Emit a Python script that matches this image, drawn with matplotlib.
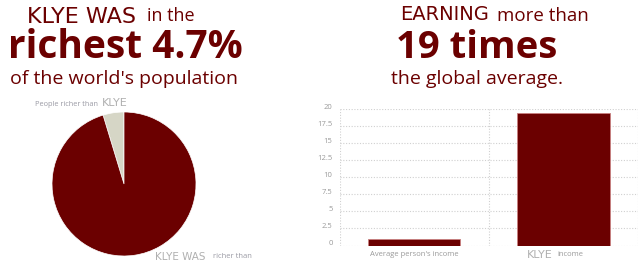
import numpy as np
import matplotlib.pyplot as plt
from matplotlib.transforms import ScaledTranslation

# data
pie_labels = ["People richer than", "richer than"]
pie_share = [4.7, 95.3]
bar_labels = ["Average person's income", "income"]
bar_values = [1.0, 19.4]
yticks = [0, 2.5, 5, 7.5, 10, 12.5, 15, 17.5, 20]

RED = "#6b0000"
BEIGE = "#d6d6c6"
GREY = "#9a9aa4"
HAND = "DejaVu Sans"
W, H = 640, 266

plt.rcParams['font.family'] = ['Open Sans', 'DejaVu Sans']
fig = plt.figure(figsize=(6.4, 2.66), dpi=100)


def txt(x, y, s, **kw):
    # place text using pixel coords from top-left
    fig.text(x / W, 1 - y / H, s, **kw)


# headline, left
txt(27, 17, "KLYE WAS", fontsize=16, color=RED, family=HAND, va="center")
txt(147, 16, "in the", fontsize=13, color=RED, va="center")
txt(125, 48, "richest 4.7%", fontsize=28, color=RED, weight="bold", ha="center", va="center")
txt(124, 79, "of the world's population", fontsize=14, color=RED, ha="center", va="center")

# headline, right
txt(400, 15, "EARNING", fontsize=14, color=RED, family=HAND, va="center")
txt(497, 16, "more than", fontsize=13.5, color=RED, va="center")
txt(477, 48, "19 times", fontsize=27.5, color=RED, weight="bold", ha="center", va="center")
txt(477, 79, "the global average.", fontsize=14, color=RED, ha="center", va="center")

# pie
ax1 = fig.add_axes([(124 - 72) / W, (H - 256) / H, 144 / W, 144 / H])
ax1.pie(pie_share, colors=[BEIGE, RED], startangle=90, counterclock=True,
        wedgeprops=dict(linewidth=0.5, edgecolor="white"))
ax1.set_xlim(-1, 1)
ax1.set_ylim(-1, 1)
ax1.axis("off")
txt(35, 104, pie_labels[0], fontsize=5.3, color=GREY, va="center")
txt(102, 103, "KLYE", fontsize=8, color="#b0b0b0", va="center", family=HAND)
txt(155, 257, "KLYE WAS", fontsize=7.5, color="#b0b0b0", va="center", family=HAND)
txt(213, 257, pie_labels[1], fontsize=5.5, color=GREY, va="center")

# bars
ax2 = fig.add_axes([339.5 / W, 20.5 / H, 298.5 / W, 136.2 / H])
x = np.arange(len(bar_values))
ax2.bar(x, bar_values, width=0.62, color=RED, edgecolor="#c98080", linewidth=0.6, zorder=3)
ax2.set_xlim(-0.5, 1.5)
ax2.set_ylim(0, 20)
ax2.set_yticks(yticks)
ax2.set_yticklabels([("%g" % v) for v in yticks])
ax2.set_xticks(x)
ax2.set_xticklabels([bar_labels[0], ""])
ax2.set_xticks([-0.5, 0.5, 1.5], minor=True)
ax2.grid(axis="y", color="#d0d0d0", linestyle=(0, (1, 1.5)), linewidth=0.8)
ax2.grid(axis="x", which="minor", color="#d0d0d0", linestyle=(0, (1, 1.5)), linewidth=0.8)
ax2.tick_params(length=0, which="both", labelsize=5.5, labelcolor="#9a9a9a")
ax2.tick_params(axis="y", pad=5)
ax2.tick_params(axis="x", pad=4)
for lab in ax2.get_yticklabels():
    lab.set_transform(lab.get_transform() + ScaledTranslation(0, 3 / 100, fig.dpi_scale_trans))
for s in ax2.spines.values():
    s.set_visible(False)

# second category label: hand-drawn name + "income"
txt(527, 255, "KLYE", fontsize=8, color="#b0b0b0", va="center", family=HAND)
txt(557, 254, bar_labels[1], fontsize=5.5, color="#9a9a9a", va="center")

plt.savefig("out.png", dpi=100)
